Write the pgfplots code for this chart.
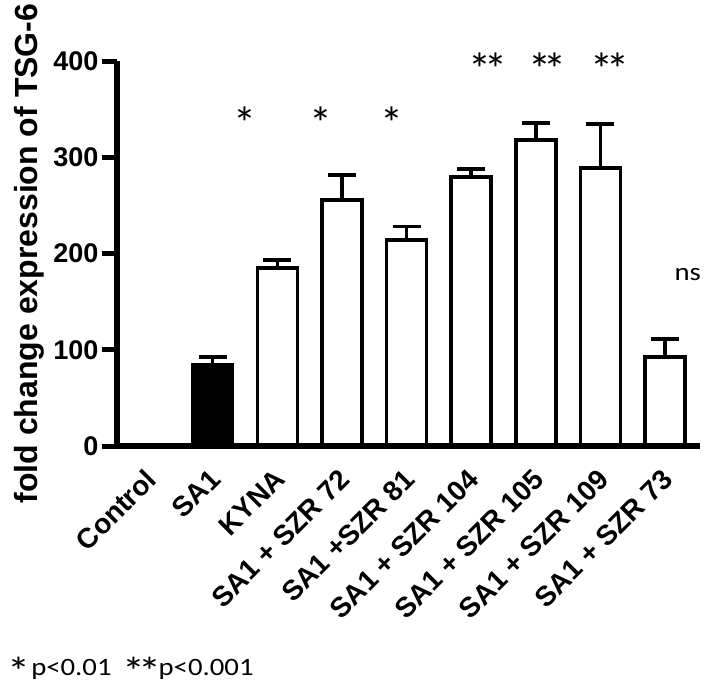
\documentclass[border=0pt]{standalone}
\usepackage{pgfplots}
\pgfplotsset{compat=1.18}
\usepackage{graphicx}
\usepackage{fontspec}
\setmainfont{Liberation Sans}
\newfontfamily\calibri{Carlito}
\newcommand{\bigast}{{\fontsize{46}{46}\selectfont *}}
\begin{document}
\begin{tikzpicture}
\useasboundingbox (-117pt,-245pt) rectangle (592pt,446pt);
\begin{axis}[
  scale only axis, width=583pt, height=385pt,
  at={(0pt,0pt)}, anchor=south west,
  xmin=-0.48, xmax=8.54, ymin=0, ymax=400,
  clip=false, axis on top,
  axis x line*=bottom, axis y line*=left,
  axis line style={line width=6pt},
  ytick={0,100,200,300,400},
  yticklabels={0,100,200,300,400},
  tick align=outside, major tick length=15pt,
  y tick style={line width=5pt, black},
  xtick={0,...,8},
  x tick style={draw=none},
  xticklabels={Control,SA1,KYNA,SA1 + SZR 72,SA1 +SZR 81,SA1 + SZR 104,SA1 + SZR 105,SA1 + SZR 109,SA1 + SZR 73},
  x tick label style={rotate=45, anchor=north east, font=\bfseries\fontsize{28}{28}\selectfont, xshift=-4pt, yshift=2pt},
  y tick label style={font=\bfseries\fontsize{27}{27}\selectfont},
  ybar, bar width=40pt, bar shift=0pt,
]
\addplot[ybar, fill=black, draw=black, line width=3.5pt,
  error bars/.cd, y dir=plus, y explicit,
  error bar style={line width=3.5pt, black},
  error mark options={rotate=90, mark size=14pt, line width=3.5pt, black}]
  coordinates {(1,84) +- (0,8.5)};
\addplot[ybar, fill=white, draw=black, line width=3.5pt,
  error bars/.cd, y dir=plus, y explicit,
  error bar style={line width=3.5pt, black},
  error mark options={rotate=90, mark size=14pt, line width=3.5pt, black}]
  coordinates {(2,185) +- (0,8) (3,255.6) +- (0,26) (4,214) +- (0,14)
    (5,279.5) +- (0,8.5) (6,318) +- (0,17.6) (7,289) +- (0,45.5) (8,92.5) +- (0,18.5)};
\begin{scope}[every node/.style={font=\calibri, anchor=base, inner sep=0pt}]
\node at (axis cs:1.50,318.5) {\bigast};
\node at (axis cs:2.67,318.5) {\bigast};
\node at (axis cs:3.78,318.5) {\bigast};
\node at (axis cs:5.26,374.6) {\bigast\kern-7pt\bigast};
\node at (axis cs:6.18,374.6) {\bigast\kern-7pt\bigast};
\node at (axis cs:7.15,374.6) {\bigast\kern-7pt\bigast};
\node at (axis cs:8.35,172) {\scalebox{1.15}[1]{\fontsize{25}{25}\selectfont ns}};
\end{scope}
\end{axis}
\node[rotate=90, anchor=base, font=\bfseries\fontsize{32}{32}\selectfont, inner sep=0pt] at (-79pt,192.5pt) {fold change expression of TSG-6};
\node[anchor=base west, font=\calibri, inner sep=0pt] at (-110pt,-229pt)
  {\scalebox{1.15}[1]{\fontsize{25}{25}\selectfont\smash{\raisebox{-10pt}{{\fontsize{40}{40}\selectfont *}}}\hspace{1pt}p<0.01\hspace{9pt}\smash{\raisebox{-10pt}{{\fontsize{40}{40}\selectfont *\kern-6pt*}}}\kern-2pt p<0.001}};
\end{tikzpicture}
\end{document}
